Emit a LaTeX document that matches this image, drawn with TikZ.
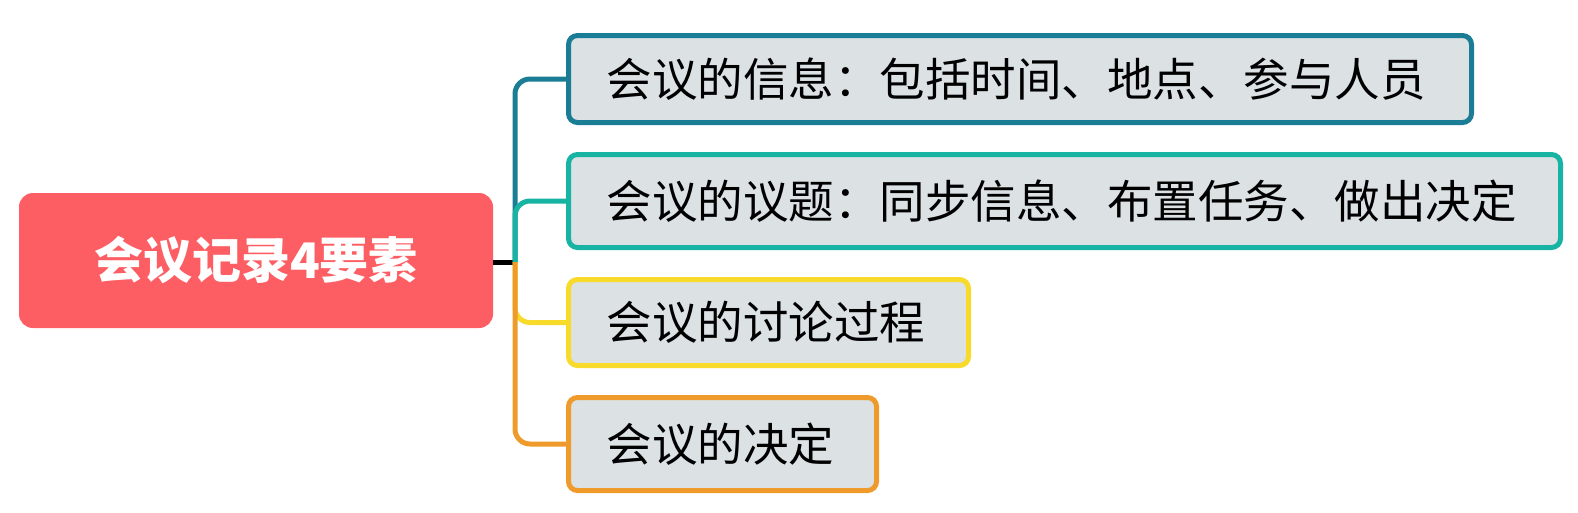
\documentclass[tikz,border=0pt]{standalone}
\usepackage{fontspec}
\newfontfamily\cjk{Noto Sans CJK SC}
\definecolor{rootred}{HTML}{FD5E64}
\definecolor{cA}{HTML}{1B7D95}
\definecolor{cB}{HTML}{17B3A3}
\definecolor{cC}{HTML}{F7DA2A}
\definecolor{cD}{HTML}{EE9B2B}
\definecolor{boxfill}{HTML}{DCE1E4}
\begin{document}
\begin{tikzpicture}[x=1pt,y=-1pt,
  rootbox/.style={fill=rootred, rounded corners=14pt, minimum width=474pt, minimum height=135pt,
    text=white, font=\cjk\bfseries\fontsize{49}{52}\selectfont, inner sep=0pt},
  leaf/.style={draw=#1, fill=boxfill, line width=5pt, rounded corners=9pt, anchor=west,
    inner xsep=38pt, inner ysep=0pt, align=left, font=\cjk\fontsize{45.5}{49}\selectfont, text=black},
  branch/.style={draw=#1, line width=5pt, rounded corners=15pt}]
\useasboundingbox (0,0) rectangle (1578,512);
\node[rootbox] (root) at (256,260.5) {会议记录4要素};
\node[leaf=cA, text width=827pt, minimum height=87pt] (b1) at (566,79) {会议的信息：包括时间、地点、参与人员};
\node[leaf=cB, text width=916pt, minimum height=93pt] (b2) at (566,201) {会议的议题：同步信息、布置任务、做出决定};
\node[leaf=cC, text width=324pt, minimum height=86pt] (b3) at (566,322.5) {会议的讨论过程};
\node[leaf=cD, text width=232pt, minimum height=93pt] (b4) at (566,444) {会议的决定};
\coordinate (j) at (515,262);
\draw[line width=5pt] (root.east |- j) -- (j);
\draw[branch=cA] (j) |- (b1.west);
\draw[branch=cB] (j) |- (b2.west);
\draw[branch=cC] (j) |- (b3.west);
\draw[branch=cD] (j) |- (b4.west);
\end{tikzpicture}
\end{document}
